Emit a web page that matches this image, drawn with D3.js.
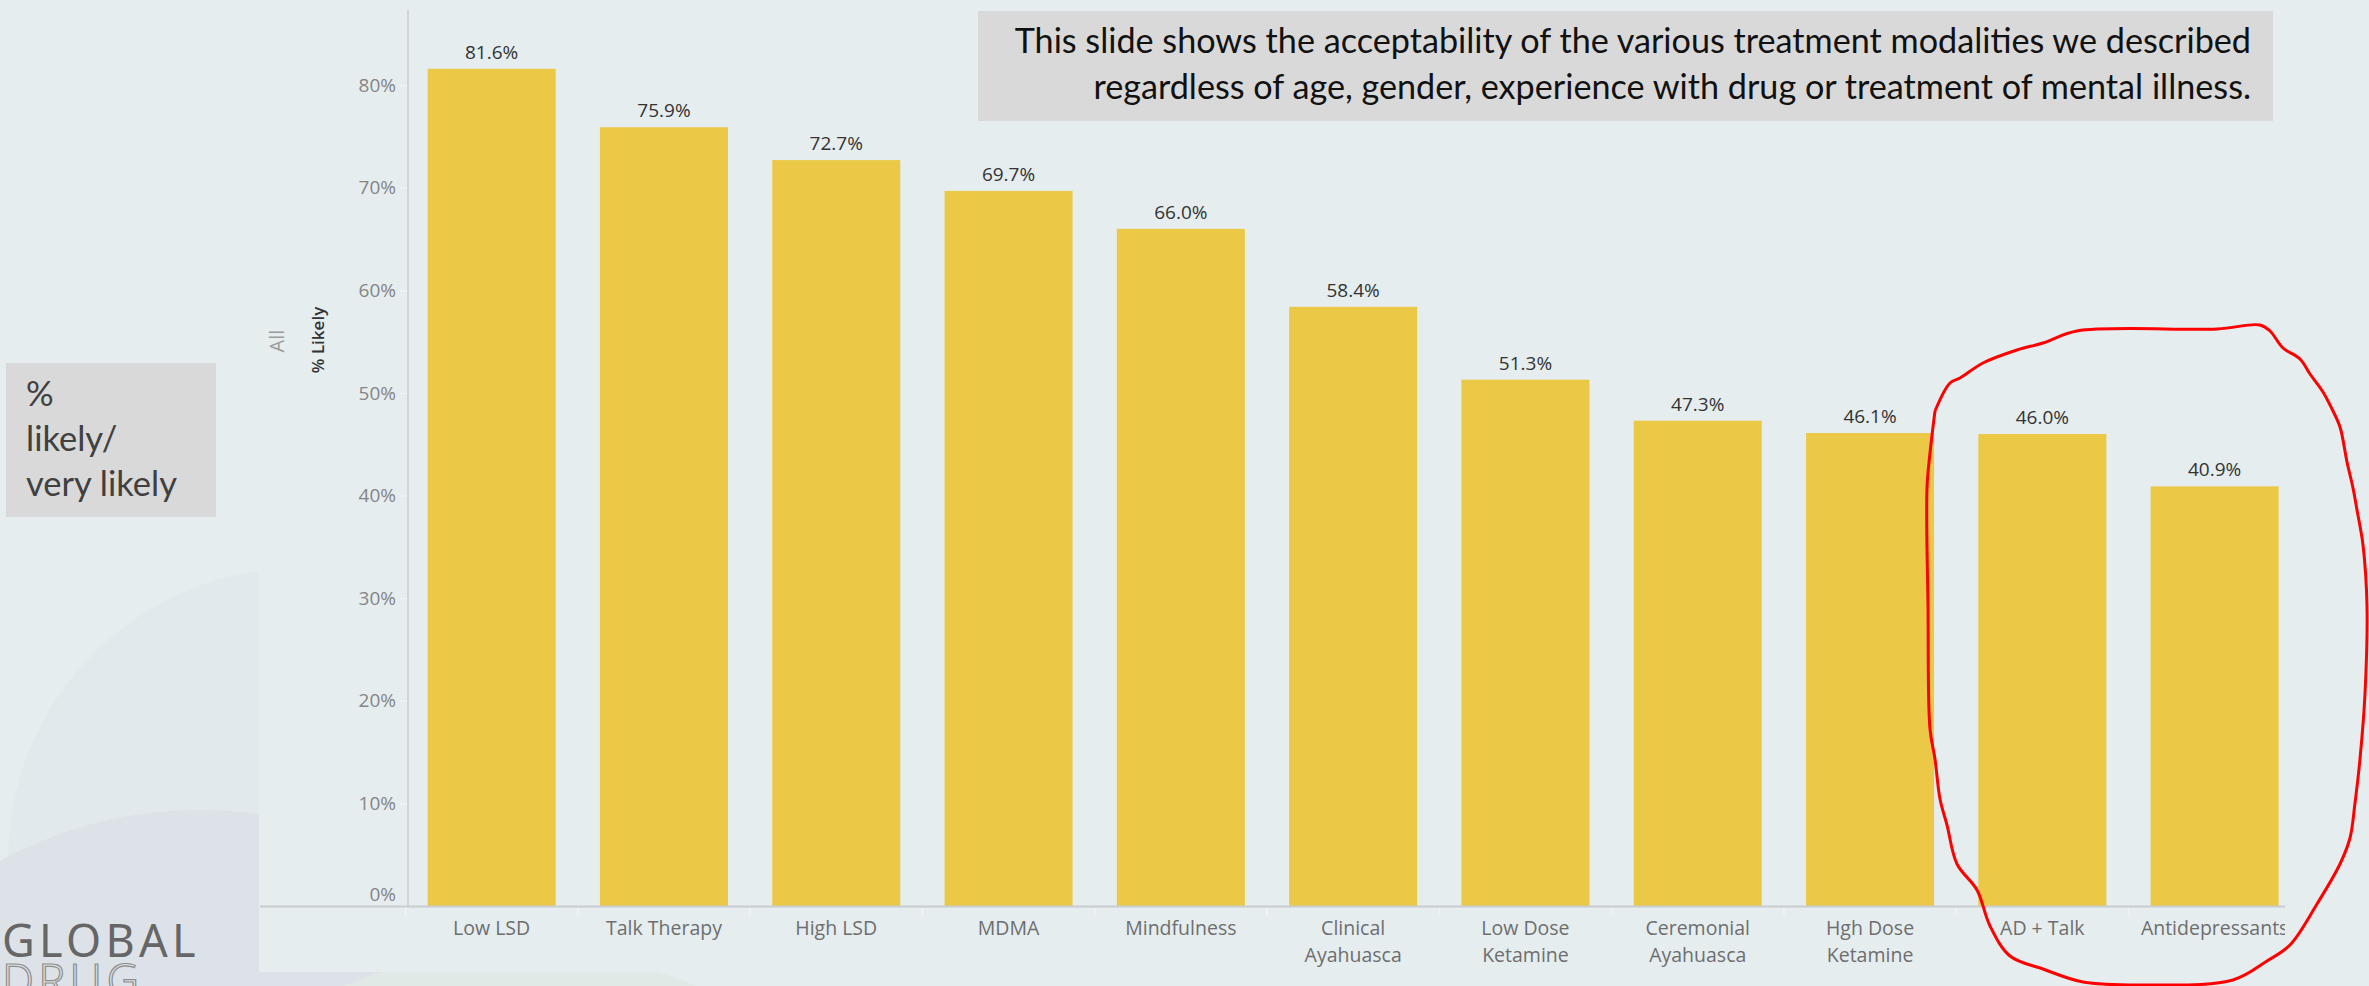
<!DOCTYPE html>
<html>
<head>
<meta charset="utf-8">
<script src="https://cdn.jsdelivr.net/npm/d3@7"></script>
<style>
  html, body { margin: 0; padding: 0; background: #e5edef; overflow: hidden; }
  svg { display: block; }
</style>
</head>
<body>
<svg id="chart" width="2369" height="986"></svg>
<script>
// ---------- DATA ----------
const categories = ["Low LSD", "Talk Therapy", "High LSD", "MDMA", "Mindfulness",
  "Clinical\nAyahuasca", "Low Dose\nKetamine", "Ceremonial\nAyahuasca",
  "Hgh Dose\nKetamine", "AD + Talk", "Antidepressants"];
const values = [0.816, 0.759, 0.727, 0.697, 0.660, 0.584, 0.513, 0.473, 0.461, 0.460, 0.409];
const yTicks = [0, 0.1, 0.2, 0.3, 0.4, 0.5, 0.6, 0.7, 0.8];
const headerLines = [
  "This slide shows the acceptability of the various treatment modalities we described",
  "regardless of age, gender, experience with drug or treatment of mental illness."
];
const sideLines = ["%", "likely/", "very likely"];
// hand-drawn red annotation loop (around the last two bars)
const annotation = [[1935,411],[1950,383],[1960,378],[1983,363],[2017,350],[2043,343],[2077,331],
  [2217,329],[2260,325],[2270,331],[2283,348],[2300,359],[2310,374],[2323,392],[2332,409],[2340,427],
  [2347,462],[2353,488],[2357,510],[2363,545],[2367,606],[2365,694],[2360,759],[2355,803],[2350,838],
  [2340,864],[2317,904],[2290,945],[2267,961],[2233,980],[2150,985],[2083,982],[2043,969],[2010,956],
  [1990,926],[1977,890],[1957,864],[1947,825],[1940,799],[1935,759],[1930,729],[1928,606],[1927,488],
  [1930,453],[1935,411]];

// ---------- LAYOUT ----------
const svg = d3.select("#chart");
const W = 2369, H = 986;
const bg = "#e5edef";
const baseY = 906, topY = 12;
const axisX = 408;
const bandStart = 405.5, step = 172.3;

// decorative background shapes (bottom-left)
svg.append("rect").attr("width", W).attr("height", H).attr("fill", bg);
svg.append("circle").attr("cx", 300).attr("cy", 860).attr("r", 292).attr("fill", "#e1e9ec");
svg.append("circle").attr("cx", 200).attr("cy", 1230).attr("r", 420).attr("fill", "#dce2e7");
svg.append("circle").attr("cx", 520).attr("cy", 1400).attr("r", 450).attr("fill", "#e0e9e6");

// chart pane background
svg.append("rect").attr("x", 259).attr("y", 0).attr("width", W - 259).attr("height", 972).attr("fill", bg);

// logo text
const logo1 = svg.append("text").attr("x", 2).attr("y", 957).text("GLOBAL")
  .attr("font-family", "Noto Sans, sans-serif").attr("font-size", 45).attr("font-weight", 400)
  .attr("fill", "#666");
const l1 = logo1.node().getComputedTextLength();
logo1.attr("letter-spacing", (198 - l1) / 6);
const logo2 = svg.append("text").attr("x", 2).attr("y", 997).text("DRUG")
  .attr("font-family", "Noto Sans, sans-serif").attr("font-size", 45).attr("font-weight", 300)
  .attr("fill", "none").attr("stroke", "#8d8d8d").attr("stroke-width", 1.2);
logo2.attr("letter-spacing", (198 - l1) / 6);

// ---------- SCALES ----------
const x = d3.scaleBand().domain(categories)
  .range([bandStart, bandStart + step * categories.length])
  .paddingInner(0.257).paddingOuter(0.1285);
const y = d3.scaleLinear().domain([0, (baseY - topY) / 1026]).range([baseY, topY]);

// clip for pane
svg.append("defs").append("clipPath").attr("id", "pane")
  .append("rect").attr("x", 259).attr("y", 0).attr("width", 2285 - 259).attr("height", 986);

const g = svg.append("g").attr("clip-path", "url(#pane)");

// y axis
const yAxis = g.append("g").attr("transform", `translate(${axisX},0)`)
  .call(d3.axisLeft(y).tickValues(yTicks).tickFormat(d3.format(".0%")).tickSize(8).tickPadding(4));
yAxis.select(".domain").remove();
yAxis.selectAll(".tick line").attr("stroke", "#f1f4f5").attr("stroke-width", 1.5);
yAxis.selectAll(".tick text").attr("font-family", "Open Sans, sans-serif").attr("font-size", 19)
  .attr("fill", "#858585");
yAxis.selectAll(".tick").filter(d => d === 0).select("text").attr("dy", "-0.3em");

// axis lines
g.append("line").attr("x1", axisX).attr("x2", axisX).attr("y1", topY - 2).attr("y2", baseY)
  .attr("stroke", "#c9cdd0").attr("stroke-width", 1.5);

// bars
g.selectAll("rect.bar").data(categories).join("rect").attr("class", "bar")
  .attr("x", d => x(d)).attr("width", x.bandwidth())
  .attr("y", (d, i) => y(values[i])).attr("height", (d, i) => baseY - y(values[i]))
  .attr("fill", "#ebc947");

// value labels
g.selectAll("text.val").data(categories).join("text").attr("class", "val")
  .attr("x", d => x(d) + x.bandwidth() / 2).attr("y", (d, i) => y(values[i]) - 10)
  .attr("text-anchor", "middle").attr("font-family", "Open Sans, sans-serif")
  .attr("font-size", 19).attr("fill", "#333")
  .text((d, i) => d3.format(".1%")(values[i]));

// x axis baseline and separators
g.append("line").attr("x1", 260).attr("x2", 2285).attr("y1", baseY + 0.5).attr("y2", baseY + 0.5)
  .attr("stroke", "#c9cdd0").attr("stroke-width", 2);
g.selectAll("line.sep").data(d3.range(categories.length)).join("line").attr("class", "sep")
  .attr("x1", i => bandStart + i * step).attr("x2", i => bandStart + i * step)
  .attr("y1", baseY + 2).attr("y2", baseY + 9)
  .attr("stroke", "#f2f5f6").attr("stroke-width", 1.5);

// x labels
const xl = g.selectAll("text.xl").data(categories).join("text").attr("class", "xl")
  .attr("x", d => x(d) + x.bandwidth() / 2).attr("y", 935)
  .attr("text-anchor", "middle").attr("font-family", "Open Sans, sans-serif")
  .attr("font-size", 19.5).attr("fill", "#6e6e6e");
xl.each(function (d) {
  const t = d3.select(this);
  d.split("\n").forEach((line, k) => {
    t.append("tspan").attr("x", x(d) + x.bandwidth() / 2).attr("dy", k === 0 ? 0 : 27).text(line);
  });
});

// rotated axis titles
svg.append("text").attr("transform", "translate(284,341) rotate(-90)")
  .attr("text-anchor", "middle").attr("font-family", "Open Sans, sans-serif")
  .attr("font-size", 20).attr("fill", "#9a9a9a").text("All");
svg.append("text").attr("transform", "translate(324,340) rotate(-90)")
  .attr("text-anchor", "middle").attr("font-family", "Open Sans, sans-serif")
  .attr("font-size", 17).attr("font-weight", 600).attr("fill", "#333").text("% Likely");

// header box
svg.append("rect").attr("x", 978).attr("y", 11).attr("width", 2273 - 978).attr("height", 110)
  .attr("fill", "#d9d9d9");
const hdr = svg.selectAll("text.hdr").data(headerLines).join("text").attr("class", "hdr")
  .attr("x", 2251).attr("y", (d, i) => 53 + i * 46).attr("text-anchor", "end")
  .attr("font-family", "Lato, sans-serif").attr("font-size", 30).attr("fill", "#111").text(d => d);
const len0 = hdr.nodes()[0].getComputedTextLength();
hdr.attr("font-size", 30 * 1237 / len0);

// side box
svg.append("rect").attr("x", 6).attr("y", 363).attr("width", 210).attr("height", 154).attr("fill", "#d9d9d9");
const side = svg.selectAll("text.side").data(sideLines).join("text").attr("class", "side")
  .attr("x", 26).attr("y", (d, i) => 406 + i * 45)
  .attr("font-family", "Lato, sans-serif").attr("font-size", 29).attr("fill", "#404040").text(d => d);
const sl = side.nodes()[2].getComputedTextLength();
side.attr("font-size", 29 * 151 / sl);

// annotation
svg.append("path").attr("d", d3.line().curve(d3.curveCatmullRom)(annotation))
  .attr("fill", "none").attr("stroke", "#ff0000").attr("stroke-width", 3);
</script>
</body>
</html>
